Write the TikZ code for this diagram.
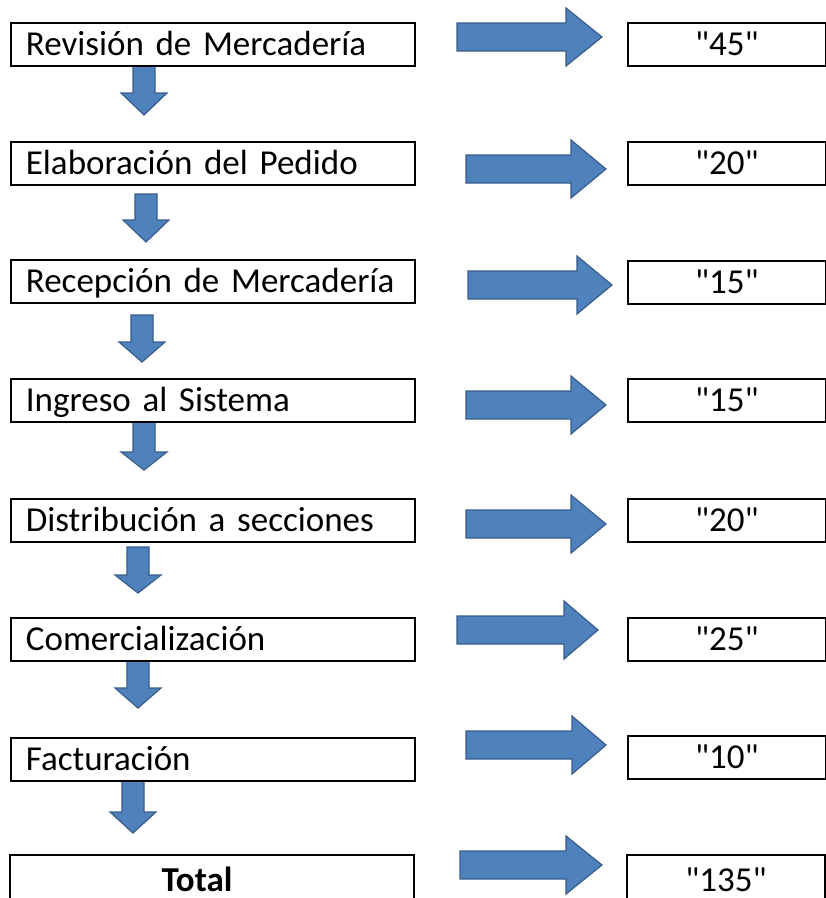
\documentclass[tikz,border=0pt]{standalone}
\usepackage{fontspec}
\setmainfont{Carlito}[Ligatures=TeXOff]
\usetikzlibrary{calc}
\definecolor{arrowblue}{HTML}{4F81BD}
\definecolor{arrowedge}{HTML}{385D8A}
\tikzset{
  labelfont/.style={font=\fontsize{35}{40}\selectfont},
  stepbox/.style={draw=black, line width=1.8pt, fill=white, anchor=north west,
    inner xsep=15pt, inner ysep=0pt, text width=374pt, align=left,
    text height=33pt, text depth=10pt, labelfont},
  timebox/.style={draw=black, line width=1.8pt, fill=white, anchor=north west,
    inner xsep=0pt, inner ysep=0pt, text width=198pt, align=center,
    text height=33pt, text depth=10pt, labelfont},
  openbox/.style={draw=none, fill=white, outer sep=0pt},
  edge/.style={draw=black, line width=1.8pt},
  blockarrow/.style={fill=arrowblue, draw=arrowedge, line width=1.2pt, line join=miter},
}
% right-pointing block arrow: start x, head base x, tip x, centre y
\newcommand\rblock[4]{%
  \draw[blockarrow] (#1,#4-14) -- (#2,#4-14) -- (#2,#4-29) -- (#3,#4)
    -- (#2,#4+29) -- (#2,#4+14) -- (#1,#4+14) -- cycle;}
% downward block arrow: centre x, top y, head base y, tip y
\newcommand\dblock[4]{%
  \draw[blockarrow] (#1-11,#2) -- (#1+11,#2) -- (#1+11,#3) -- (#1+23,#3)
    -- (#1,#4) -- (#1-23,#3) -- (#1-11,#3) -- cycle;}
\begin{document}
\begin{tikzpicture}[x=1pt, y=-1pt]
  \fill[white] (0,0) rectangle (826,898);
  \useasboundingbox (0,0) rectangle (826,898);

  % arrows between the steps
  \dblock{144}{65}{93}{115}
  \dblock{146}{194}{220}{242}
  \dblock{142}{315}{342}{362}
  \dblock{144}{422}{452}{470}
  \dblock{138}{547}{575}{593}
  \dblock{138}{660}{688}{708}
  \dblock{133}{781}{812}{833}

  % arrows towards the times
  \rblock{457}{566}{602}{37}
  \rblock{466}{571}{606}{169}
  \rblock{468}{577}{612}{285}
  \rblock{466}{571}{606}{405}
  \rblock{466}{571}{606}{524}
  \rblock{457}{564}{598}{630}
  \rblock{466}{572}{606}{745}
  \rblock{460}{566}{602}{865}

  % process steps
  \node[stepbox] (s1) at (10,22)  {Revisión de Mercadería};
  \node[stepbox] (s2) at (10,141) {Elaboración del Pedido};
  \node[stepbox] (s3) at (10,259) {Recepción de Mercadería};
  \node[stepbox] (s4) at (10,378) {Ingreso al Sistema};
  \node[stepbox] (s5) at (10,498) {Distribución a secciones};
  \node[stepbox] (s6) at (10,617) {Comercialización};
  \node[stepbox] (s7) at (10,737) {Facturación};
  % the last row runs past the lower edge, so its boxes have no bottom side
  \node[stepbox, openbox, align=center, text height=36pt, text depth=1pt] (s8)
    at (10,855) {\hspace*{-30pt}\textbf{Total}};
  \draw[edge] ([yshift=-8pt]s8.south west) |- (s8.north east)
    -- ([yshift=-8pt]s8.south east);

  % times
  \node[timebox] (t1) at (627,22)  {"45"};
  \node[timebox] (t2) at (627,141) {"20"};
  \node[timebox] (t3) at (627,260) {"15"};
  \node[timebox] (t4) at (627,378) {"15"};
  \node[timebox] (t5) at (627,498) {"20"};
  \node[timebox] (t6) at (627,617) {"25"};
  \node[timebox] (t7) at (627,735) {"10"};
  \node[timebox, openbox, text height=36pt, text depth=1pt] (t8)
    at (627,855) {"135"};
  \draw[edge] ([yshift=-8pt]t8.south west) |- (t8.north east)
    -- ([yshift=-8pt]t8.south east);
\end{tikzpicture}
\end{document}
